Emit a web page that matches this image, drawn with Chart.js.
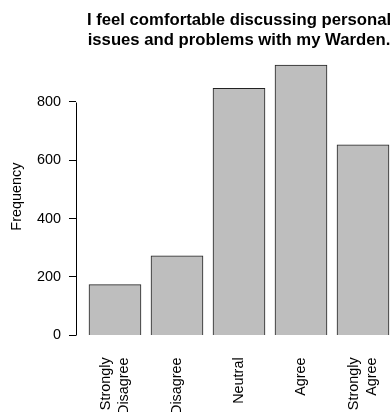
<!DOCTYPE html>
<html>
<head>
<meta charset="utf-8">
<script src="https://cdn.jsdelivr.net/npm/chart.js@4.4.1/dist/chart.umd.min.js"></script>
<style>
html, body { margin: 0; padding: 0; overflow: hidden; background: #fff; }
/* the plot region runs a bit past the right edge of the window, like the R figure */
#wrap { width: 402px; height: 437px; }
</style>
</head>
<body>
<div id="wrap"><canvas id="myChart"></canvas></div>
<script>
var categories = [["Strongly", "Disagree"], "Disagree", "Neutral", "Agree", ["Strongly", "Agree"]];
var counts = [174, 272, 846, 925, 652];
var yTickValues = [0, 200, 400, 600, 800];
var titleLines = ["I feel comfortable discussing personal", "issues and problems with my Warden."];

var labelFont = { family: 'Liberation Sans, Arial, sans-serif', size: 14.4, lineHeight: 1.2 };

var ctx = document.getElementById("myChart").getContext('2d');

// R style y axis: line only from first to last tick
var axisLine = {
    id: 'axisLine',
    afterDraw: function(chart) {
        var y = chart.scales.y;
        var x = Math.round(chart.chartArea.left) + 0.5;
        var c = chart.ctx;
        c.save();
        c.strokeStyle = '#000';
        c.lineWidth = 1;
        c.beginPath();
        c.moveTo(x, Math.round(y.getPixelForValue(yTickValues[0])) + 0.5);
        c.lineTo(x, Math.round(y.getPixelForValue(yTickValues[yTickValues.length - 1])) + 0.5);
        c.stroke();
        c.restore();
    }
};

var myChart = new Chart(ctx, {
    type: 'bar',
    data: {
        datasets: [{
            label: 'Frequency',
            data: counts.map(function(v, i) { return {x: i, y: v}; }),
            backgroundColor: '#bebebe',
            borderColor: '#222',
            borderWidth: 1,
            barThickness: 52
        }]
    },
    options: {
        responsive: true,
        maintainAspectRatio: false,
        animation: false,
        layout: { padding: { left: 8.4, right: 0, top: 0, bottom: 0 } },
        plugins: {
            legend: { display: false },
            tooltip: { enabled: false },
            title: {
                display: true,
                fullSize: false,
                text: titleLines,
                color: '#000',
                font: { family: 'Liberation Sans, Arial, sans-serif', size: 16.7, weight: 'bold', lineHeight: 1.2 },
                padding: { top: 10, bottom: 7.8 }
            }
        },
        scales: {
            x: {
                type: 'linear',
                min: -0.629,
                max: 4.629,
                offset: false,
                grid: { display: false, drawTicks: false },
                border: { display: false },
                afterBuildTicks: function(axis) {
                    axis.ticks = categories.map(function(c, i) { return {value: i}; });
                },
                afterFit: function(axis) {
                    axis.paddingLeft = 0;
                    axis.paddingRight = 0;
                },
                // chart.js puts the first line of a rotated label on the tick,
                // R centres the whole block, so nudge two-line labels back
                afterUpdate: function(axis) {
                    var ppu = (axis.right - axis.left) / (axis.max - axis.min);
                    var lh = labelFont.size * labelFont.lineHeight;
                    axis.ticks.forEach(function(t, i) {
                        var n = Array.isArray(categories[i]) ? categories[i].length : 1;
                        t.value = i - (n - 1) * lh / 2 / ppu;
                    });
                },
                ticks: {
                    minRotation: 90,
                    maxRotation: 90,
                    autoSkip: false,
                    padding: 22,
                    color: '#000',
                    font: labelFont,
                    callback: function(value) { return categories[value]; }
                }
            },
            y: {
                min: 0,
                max: 950,
                grid: { drawOnChartArea: false, drawTicks: true, tickLength: 7, color: '#000', lineWidth: 1 },
                border: { display: false },
                afterBuildTicks: function(axis) {
                    axis.ticks = yTickValues.map(function(v) { return {value: v}; });
                },
                ticks: {
                    padding: 8,
                    color: '#000',
                    font: labelFont
                },
                title: {
                    display: true,
                    text: 'Frequency',
                    color: '#000',
                    font: labelFont,
                    padding: { top: 0, bottom: 3.3 }
                }
            }
        }
    },
    plugins: [axisLine]
});
</script>
</body>
</html>
